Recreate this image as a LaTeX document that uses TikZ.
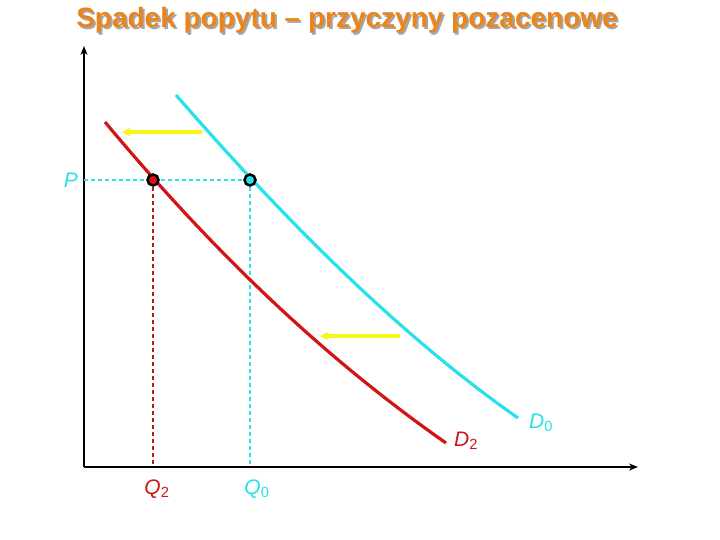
\documentclass[tikz,border=0pt]{standalone}
\usepackage{fontspec}
\setmainfont{Liberation Sans}
\usetikzlibrary{arrows.meta}
\definecolor{ttl}{RGB}{236,132,28}
\definecolor{redc}{RGB}{210,20,20}
\definecolor{cyanc}{RGB}{40,225,235}
\definecolor{yel}{RGB}{250,245,20}
\definecolor{dred}{RGB}{170,30,30}
\tikzset{
  axis/.style={line width=2.8pt,-{Stealth[length=9pt,width=7pt]}},
  dcurve/.style={line width=3.2pt},
  movearrow/.style={yel,line width=3.2pt,-{Stealth[length=9pt,width=9pt]}},
  guide/.style={line width=1.5pt,dash pattern=on 4pt off 3pt},
  pt/.style={circle,draw=black,line width=2.5pt,inner sep=0pt,minimum size=11pt},
  lbl/.style={font=\fontsize{21}{24}\selectfont\itshape}
}
\begin{document}
\begin{tikzpicture}[x=1pt,y=-1pt]
\useasboundingbox (0,0) rectangle (720,540);
% title
\node[font=\fontsize{28}{32}\selectfont\bfseries,text=black!35] at (349,22.5) {Spadek popytu – przyczyny pozacenowe};
\node[font=\fontsize{28}{32}\selectfont\bfseries,text=ttl] (title) at (347,20.5) {Spadek popytu – przyczyny pozacenowe};
% axes
\coordinate (O) at (84,467);
\coordinate (ytop) at (84,46);
\coordinate (xend) at (638,467);
\draw[axis] (O) -- (ytop);
\draw[axis] (O) -- (xend);
% points
\coordinate (Pl) at (84,180);
\coordinate (A) at (153,180);
\coordinate (B) at (250,180);
\coordinate (Aq) at (153,467);
\coordinate (Bq) at (250,467);
% guides
\draw[guide,cyanc] (Pl) -- (B);
\draw[guide,dred] (A) -- (Aq);
\draw[guide,cyanc] (B) -- (Bq);
% curves
\coordinate (r0) at (105,122); \coordinate (r1) at (446,443);
\coordinate (c0) at (176,95);  \coordinate (c1) at (518,418);
\draw[dcurve,redc] (r0) .. controls (225,266) and (336,366) .. (r1);
\draw[dcurve,cyanc] (c0) .. controls (296,233) and (408,341) .. (c1);
% shift arrows
\coordinate (s1a) at (202,132); \coordinate (s1b) at (122,132);
\coordinate (s2a) at (400,336); \coordinate (s2b) at (320,336);
\draw[movearrow] (s1a) -- (s1b);
\draw[movearrow] (s2a) -- (s2b);
% dots
\node[pt,fill=redc] (ptA) at (A) {};
\node[pt,fill=cyanc] (ptB) at (B) {};
% labels
\node[lbl,text=cyanc] (P) at (71,180) {P};
\node[lbl,text=redc] (Q2) at (157,489) {Q\textsubscript{\upshape 2}};
\node[lbl,text=cyanc] (Q0) at (257,489) {Q\textsubscript{\upshape 0}};
\node[lbl,text=redc] (D2) at (466,441) {D\textsubscript{\upshape 2}};
\node[lbl,text=cyanc] (D0) at (541,423) {D\textsubscript{\upshape 0}};
\end{tikzpicture}
\end{document}
